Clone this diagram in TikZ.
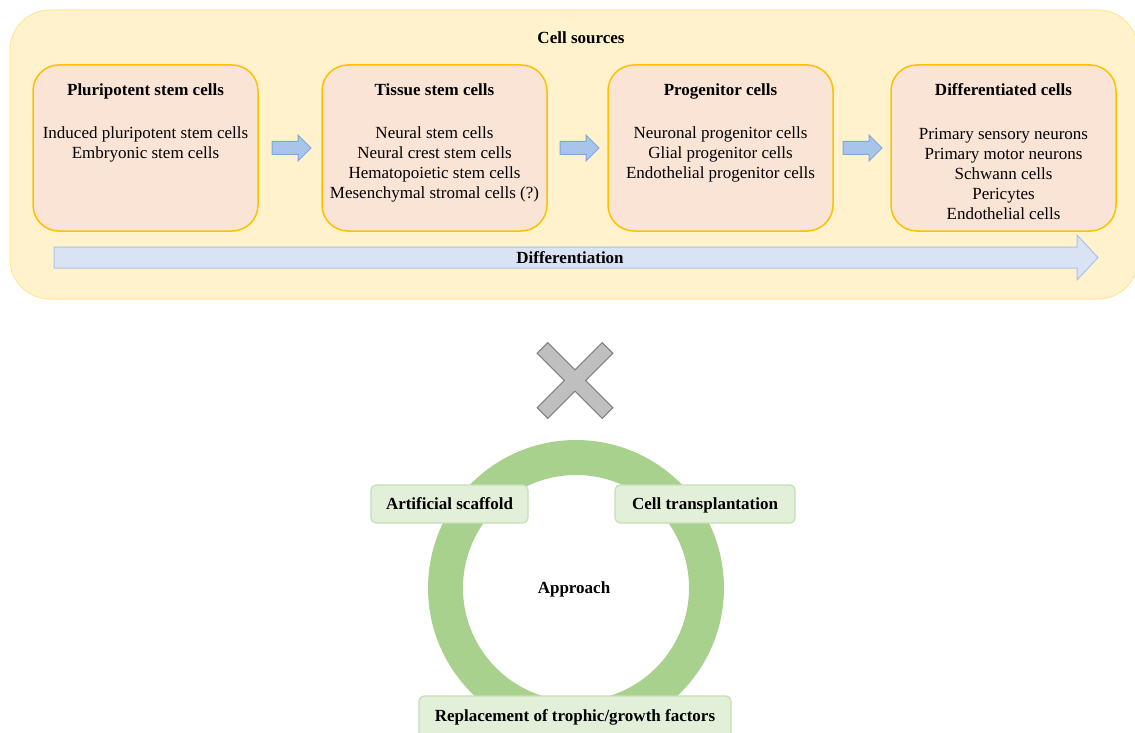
\documentclass[tikz,border=0pt]{standalone}
\usepackage{fontspec}
\setmainfont{Liberation Serif}
\definecolor{outerfill}{HTML}{FFF2CC}
\definecolor{outerline}{HTML}{FFE699}
\definecolor{cellfill}{HTML}{FAE4D6}
\definecolor{cellline}{HTML}{FFC000}
\definecolor{arrfill}{HTML}{A9C4EB}
\definecolor{arrline}{HTML}{7EA6E0}
\definecolor{difffill}{HTML}{DAE3F3}
\definecolor{ringgreen}{HTML}{A9D18E}
\definecolor{gboxfill}{HTML}{E2F0D9}
\definecolor{gboxline}{HTML}{C5E0B4}
\definecolor{crossfill}{HTML}{BFBFBF}
\definecolor{crossline}{HTML}{7F7F7F}
\tikzset{
  txt/.style={font=\fontsize{17}{20}\selectfont, align=center, inner sep=0pt},
  btxt/.style={font=\fontsize{17}{20}\selectfont\bfseries, align=center, inner sep=0pt,
    text height=12pt, text depth=1pt},
  cellbox/.style={draw=cellline, fill=cellfill, line width=1.5pt, rounded corners=26pt},
  smallarrow/.style={draw=arrline, fill=arrfill, line width=1pt},
  gbox/.style={draw=gboxline, fill=gboxfill, line width=1.2pt, rounded corners=5pt,
    font=\fontsize{17}{20}\selectfont\bfseries, inner sep=0pt, anchor=center,
    text height=12pt, text depth=1pt},
}
\begin{document}
\begin{tikzpicture}[x=1pt,y=-1pt]
\useasboundingbox (0,0) rectangle (1135,733);
% outer container
\draw[draw=outerline, fill=outerfill, line width=1pt, rounded corners=40pt] (10,10) rectangle (1138,299);
\node[btxt] (title) at (581,38) {Cell sources};
% cell boxes
\draw[cellbox] (33,65) rectangle (258,231);
\draw[cellbox] (322,65) rectangle (547,231);
\draw[cellbox] (608,65) rectangle (833,231);
\draw[cellbox] (891,65) rectangle (1116,231);
\node[btxt] (t1) at (145.5,90) {Pluripotent stem cells};
\node[btxt] (t2) at (434.5,90) {Tissue stem cells};
\node[btxt] (t3) at (720.5,90) {Progenitor cells};
\node[btxt] (t4) at (1003.5,90) {Differentiated cells};
\node[txt] (l1) at (145.5,144) {Induced pluripotent stem cells\\Embryonic stem cells};
\node[txt] (l2) at (434.5,164) {Neural stem cells\\Neural crest stem cells\\Hematopoietic stem cells\\Mesenchymal stromal cells (?)};
\node[txt] (l3) at (720.5,154) {Neuronal progenitor cells\\Glial progenitor cells\\Endothelial progenitor cells};
\node[txt] (l4) at (1003.5,173.5) {Primary sensory neurons\\Primary motor neurons\\Schwann cells\\Pericytes\\Endothelial cells};
% small block arrows
\foreach \x in {272,560,843}{
  \draw[smallarrow] (\x,141.5) -- (\x+26,141.5) -- (\x+26,135) -- (\x+39,148) -- (\x+26,161) -- (\x+26,154.5) -- (\x,154.5) -- cycle;
}
% differentiation arrow
\draw[draw=arrfill, fill=difffill, line width=1pt] (54,247) -- (1077,247) -- (1077,235) -- (1098,257.5) -- (1077,280) -- (1077,268) -- (54,268) -- cycle;
\node[btxt] (diff) at (570,257.5) {Differentiation};
% cross
\begin{scope}[shift={(575,380.5)}, rotate=45]
\draw[draw=crossline, fill=crossfill, line width=1pt]
 (46,7.5) -- (7.5,7.5) -- (7.5,46) -- (-7.5,46) -- (-7.5,7.5) -- (-46,7.5) -- (-46,-7.5) -- (-7.5,-7.5) -- (-7.5,-46) -- (7.5,-46) -- (7.5,-7.5) -- (46,-7.5) -- cycle;
\end{scope}
% ring
\draw[ringgreen, line width=35pt] (576,588) circle[radius=130.5];
\node[btxt] (appr) at (574,587.5) {Approach};
\node[gbox, minimum width=157pt, minimum height=38pt] (as) at (449.5,504) {Artificial scaffold};
\node[gbox, minimum width=180pt, minimum height=38pt] (ct) at (705,504) {Cell transplantation};
\draw[draw=gboxline, fill=gboxfill, line width=1.2pt, rounded corners=5pt] (419,696) rectangle (731,745);
\node[btxt] (rep) at (575,715.5) {Replacement of trophic/growth factors};
\end{tikzpicture}
\end{document}
